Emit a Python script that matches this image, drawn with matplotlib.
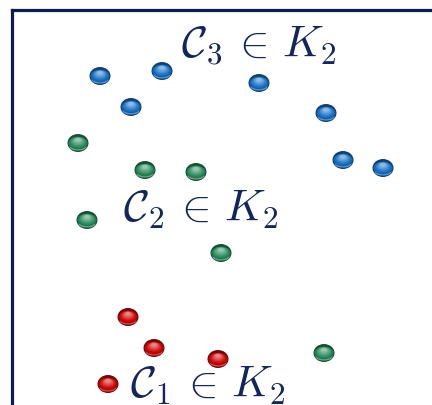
import numpy as np
import matplotlib.pyplot as plt
from matplotlib.patches import Ellipse
from matplotlib.colors import to_rgb

plt.rcParams['mathtext.fontset'] = 'cm'

# ball centres (x, y) in canvas pixels, y downward
blue_x = [100, 162, 131, 259, 326, 343, 383]
blue_y = [76, 71, 107, 83, 113, 160, 168]
green_x = [78, 145, 196, 87, 221, 324]
green_y = [143, 170, 172, 220, 253, 353]
red_x = [128, 154, 218, 108]
red_y = [317, 348, 359, 384]

labels = [r'$\mathcal{C}_3\,\in\,K_2$', r'$\mathcal{C}_2\,\in\,K_2$', r'$\mathcal{C}_1\,\in\,K_2$']
label_x = [181, 123, 130]
label_y = [57, 221, 397]

ink = '#13265c'


def shade(c, f):
    c = np.array(to_rgb(c))
    if f < 1:
        return tuple(c * f)
    return tuple(c + (1 - c) * (f - 1))


def draw_ball(ax, x, y, color, w=21, h=18):
    # dark rim and a pale reflection near the bottom
    ax.add_patch(Ellipse((x, y), w, h, color=shade(color, 0.55), lw=0, zorder=2))
    ax.add_patch(Ellipse((x, y + h * 0.22), w * 0.8, h * 0.4,
                         color=shade(color, 1.25), lw=0, zorder=2.1))
    # body, lightening toward the upper middle
    n = 12
    for i in range(n):
        t = i / (n - 1)
        s = 1 - 0.75 * t
        ax.add_patch(Ellipse((x, y - h * 0.18 * t), w * 0.92 * s, h * 0.7 * s,
                             color=shade(color, 0.8 + 0.7 * t), lw=0, zorder=2.2 + t))


fig = plt.figure(figsize=(4.32, 4.05), dpi=100)
ax = fig.add_axes([0, 0, 1, 1])
ax.set_xlim(0, 432)
ax.set_ylim(405, 0)
ax.axis('off')

# frame: top and left edges
ax.plot([12, 432], [10, 10], color='#0b1d4d', lw=2.3, solid_capstyle='projecting')
ax.plot([12, 12], [10, 405], color='#0b1d4d', lw=2.3, solid_capstyle='projecting')

for xs, ys, col in [(blue_x, blue_y, '#1c74c8'),
                    (green_x, green_y, '#2f8f62'),
                    (red_x, red_y, '#d00a0a')]:
    for x, y in zip(xs, ys):
        draw_ball(ax, x, y, col)

for s, x, y in zip(labels, label_x, label_y):
    ax.text(x, y, s, fontsize=32, color=ink, ha='left', va='baseline', zorder=5)

fig.savefig('out.png', dpi=100)
